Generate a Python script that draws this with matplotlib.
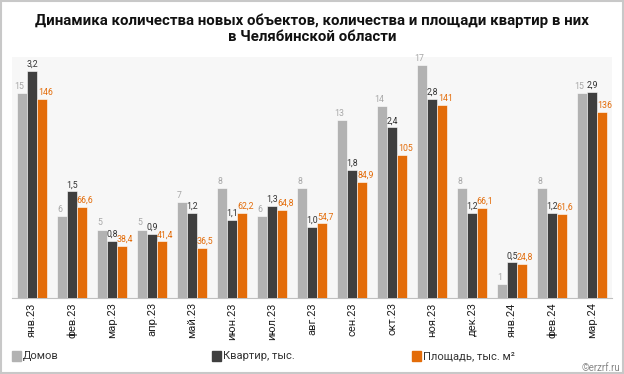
import matplotlib.pyplot as plt
import matplotlib.patches as mpatches
import numpy as np

plt.rcParams['font.family'] = ['Roboto', 'DejaVu Sans']

months = ['янв.23', 'фев.23', 'мар.23', 'апр.23', 'май.23', 'июн.23', 'июл.23',
          'авг.23', 'сен.23', 'окт.23', 'ноя.23', 'дек.23', 'янв.24', 'фев.24', 'мар.24']
houses = [15, 6, 5, 5, 7, 8, 6, 8, 13, 14, 17, 8, 1, 8, 15]
flats = [3.2, 1.5, 0.8, 0.9, 1.2, 1.1, 1.3, 1.0, 1.8, 2.4, 2.8, 1.2, 0.5, 1.2, 2.9]
area = [146, 66.6, 38.4, 41.4, 36.5, 62.2, 64.8, 54.7, 84.9, 105, 141, 66.1, 24.8, 61.6, 136]

c_houses = '#b2b2b2'
c_flats = '#3f3f3f'
c_area = '#e36c09'

fig = plt.figure(figsize=(6.24, 3.74), dpi=100)
fig.patch.set_facecolor('white')
# рамка вокруг картинки
fig.patches.append(mpatches.Rectangle((0.0015, 0.002), 0.997, 0.996, transform=fig.transFigure,
                                      fill=False, edgecolor='#c8c8c8', linewidth=1.5))

ax = fig.add_axes([12 / 624, 76 / 374, 600 / 624, 241 / 374])
ax.set_facecolor('#f7f7f7')
ax2 = ax.twinx()
ax3 = ax.twinx()

x = np.arange(len(months))
w = 0.25

ax.bar(x - w, houses, w, color=c_houses, edgecolor='white', linewidth=0.4)
ax2.bar(x, flats, w, color=c_flats, edgecolor='white', linewidth=0.4)
ax3.bar(x + w, area, w, color=c_area, edgecolor='white', linewidth=0.4)

ax.set_ylim(0, 17.6)
ax2.set_ylim(0, 3.39)
ax3.set_ylim(0, 176.5)
ax.set_xlim(-0.5, len(months) - 0.5)

for a in (ax, ax2, ax3):
    a.set_yticks([])
    for s in a.spines.values():
        s.set_visible(False)
ax.spines['bottom'].set_visible(True)
ax.spines['bottom'].set_color('#c0c0c0')

ax.set_xticks(x)
ax.set_xticklabels(months, rotation=90, fontsize=8, color='#222222')
ax.tick_params(axis='x', length=0, pad=3)

for xi, v in zip(x, houses):
    ax.annotate(str(v), (xi - w - 0.06, v), xytext=(0, 1.5), textcoords='offset points',
                ha='center', va='bottom', fontsize=6.3, color='#a8a8a8')
for xi, v in zip(x, flats):
    ax2.annotate(f'{v:.1f}'.replace('.', ','), (xi, v), xytext=(0, 1.5), textcoords='offset points',
                 ha='center', va='bottom', fontsize=6.3, color='#333333')
for xi, v in zip(x, area):
    lbl = f'{v:.0f}' if v >= 100 else f'{v:.1f}'.replace('.', ',')
    ax3.annotate(lbl, (xi + w + 0.08, v), xytext=(0, 1.5), textcoords='offset points',
                 ha='center', va='bottom', fontsize=6.3, color=c_area)

fig.text(0.5, 1 - 21 / 374, 'Динамика количества новых объектов, количества и площади квартир в них',
         ha='center', va='center', fontsize=10.8, fontweight='bold', color='#111111')
fig.text(0.5, 1 - 37 / 374, 'в Челябинской области',
         ha='center', va='center', fontsize=10.8, fontweight='bold', color='#111111')

# легенда
leg = [('Домов', c_houses, 12), ('Квартир, тыс.', c_flats, 212), ('Площадь, тыс. м²', c_area, 412)]
for txt, col, px in leg:
    fig.patches.append(mpatches.Rectangle((px / 624, 1 - 361 / 374), 9 / 624, 10 / 374,
                                          transform=fig.transFigure, color=col))
    fig.text((px + 11) / 624, 1 - 356 / 374, txt, ha='left', va='center', fontsize=8, color='#333333')

fig.text(1 - 4 / 624, 1 - 368 / 374, '©erzrf.ru', ha='right', va='center', fontsize=7, color='#888888')

fig.savefig('out.png', dpi=100)
